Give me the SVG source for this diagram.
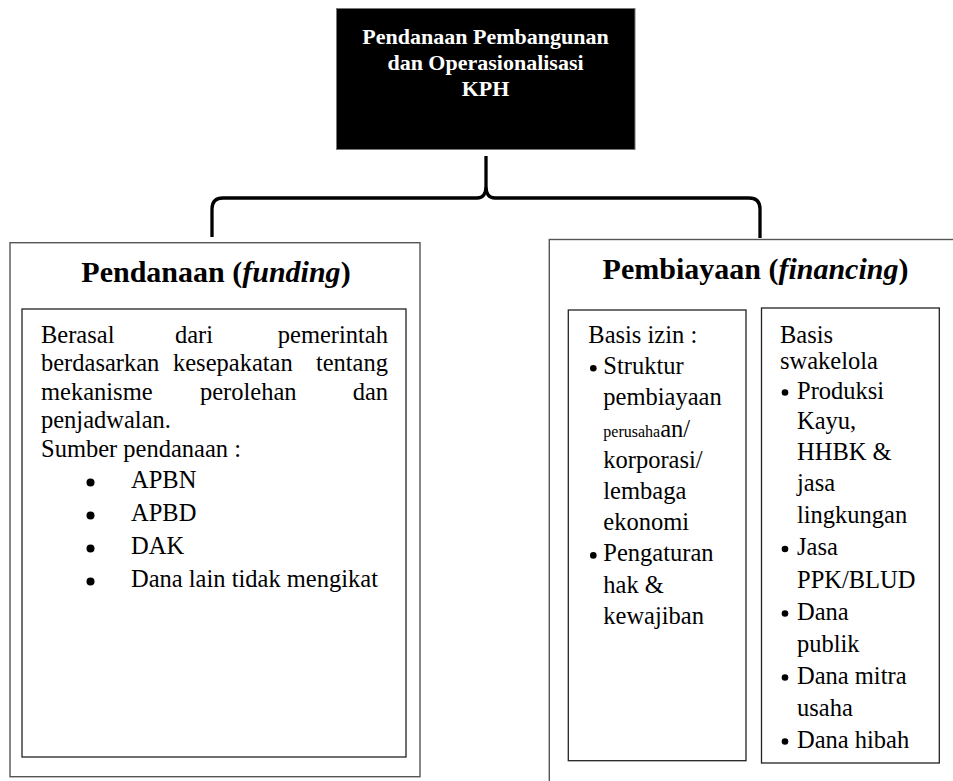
<svg xmlns="http://www.w3.org/2000/svg" width="953" height="781" viewBox="0 0 953 781">
<style>
  text { font-family: "Liberation Serif", "Times New Roman", serif; fill: #000; }
  .top { font-size: 22px; font-weight: bold; fill: #fff; text-anchor: middle; }
  .ttl { font-size: 30px; font-weight: bold; text-anchor: middle; }
  .bi { font-style: italic; }
  .t { font-size: 24.5px; }
  .sm { font-size: 16px; }
  .end { text-anchor: end; }
  .outer { fill: #fff; stroke: #555; stroke-width: 1.4; }
  .inner { fill: #fff; stroke: #222; stroke-width: 1.3; }
  .brace { fill: none; stroke: #000; stroke-width: 3.3; stroke-linejoin: round; }
</style>
<rect width="953" height="781" fill="#fff"/>

<g id="node-top">
  <rect x="336.5" y="8.5" width="298.5" height="141" fill="#000" stroke="#777" stroke-width="1"/>
  <text class="top" x="485.5" y="44">Pendanaan Pembangunan</text>
  <text class="top" x="485.5" y="70">dan Operasionalisasi</text>
  <text class="top" x="485.5" y="96">KPH</text>
</g>

<g id="connectors">
  <path class="brace" d="M212,237 L212,209 Q212,198 223,198 L477,198 Q486,198 486,186 L486,156 M486,186 Q486,198 495,198 L749,198 Q760,198 760,209 L760,238"/>
</g>

<g id="node-funding">
  <rect class="outer" x="10" y="242.7" width="410" height="534"/>
  <text class="ttl" x="216" y="282">Pendanaan (<tspan class="bi">funding</tspan>)</text>
  <rect class="inner" x="22" y="309" width="384" height="448"/>
  <text class="t" x="41" y="342.5">Berasal</text>
  <text class="t" x="175" y="342.5">dari</text>
  <text class="t end" x="388" y="342.5">pemerintah</text>
  <text class="t" x="41" y="371">berdasarkan</text>
  <text class="t" x="173" y="371">kesepakatan</text>
  <text class="t end" x="388" y="371">tentang</text>
  <text class="t" x="41" y="399.5">mekanisme</text>
  <text class="t" x="200" y="399.5">perolehan</text>
  <text class="t end" x="388" y="399.5">dan</text>
  <text class="t" x="41" y="428">penjadwalan.</text>
  <text class="t" x="41" y="456.5">Sumber pendanaan :</text>
  <circle cx="90.5" cy="482.5" r="4"/>
  <text class="t" x="131" y="487.5">APBN</text>
  <circle cx="90.5" cy="515.5" r="4"/>
  <text class="t" x="131" y="520.5">APBD</text>
  <circle cx="90.5" cy="548.5" r="4"/>
  <text class="t" x="131" y="553.5">DAK</text>
  <circle cx="90.5" cy="581.5" r="4"/>
  <text class="t" x="131" y="586.5">Dana lain tidak mengikat</text>
</g>

<g id="node-financing">
  <rect class="outer" x="549.3" y="239.5" width="420" height="560"/>
  <text class="ttl" x="755.5" y="279">Pembiayaan (<tspan class="bi">financing</tspan>)</text>
</g>

<g id="node-izin">
  <rect class="inner" x="568.3" y="310" width="177.7" height="450.7"/>
  <text class="t" x="588.3" y="343">Basis izin :</text>
  <circle cx="593.3" cy="368.2" r="3.3"/>
  <text class="t" x="603.3" y="374.2">Struktur</text>
  <text class="t" x="603.3" y="405.4">pembiayaan</text>
  <text class="t" x="603.3" y="436.6"><tspan class="sm">perusaha</tspan>an/</text>
  <text class="t" x="603.3" y="467.8">korporasi/</text>
  <text class="t" x="603.3" y="499">lembaga</text>
  <text class="t" x="603.3" y="530.2">ekonomi</text>
  <circle cx="593.3" cy="555.4" r="3.3"/>
  <text class="t" x="603.3" y="561.4">Pengaturan</text>
  <text class="t" x="603.3" y="592.6">hak &amp;</text>
  <text class="t" x="603.3" y="623.8">kewajiban</text>
</g>

<g id="node-swakelola">
  <rect class="inner" x="761.5" y="308" width="177.8" height="455"/>
  <text class="t" x="780" y="343">Basis</text>
  <text class="t" x="780" y="369">swakelola</text>
  <circle cx="785" cy="392.5" r="3.3"/>
  <text class="t" x="797" y="398.5">Produksi</text>
  <text class="t" x="797" y="429">Kayu,</text>
  <text class="t" x="797" y="460">HHBK &amp;</text>
  <text class="t" x="797" y="491">jasa</text>
  <text class="t" x="797" y="523">lingkungan</text>
  <circle cx="785" cy="549" r="3.3"/>
  <text class="t" x="797" y="555">Jasa</text>
  <text class="t" x="797" y="587.5">PPK/BLUD</text>
  <circle cx="785" cy="613.5" r="3.3"/>
  <text class="t" x="797" y="619.5">Dana</text>
  <text class="t" x="797" y="651.5">publik</text>
  <circle cx="785" cy="677.5" r="3.3"/>
  <text class="t" x="797" y="683.5">Dana mitra</text>
  <text class="t" x="797" y="715.5">usaha</text>
  <circle cx="785" cy="741.5" r="3.3"/>
  <text class="t" x="797" y="747.5">Dana hibah</text>
</g>
</svg>
